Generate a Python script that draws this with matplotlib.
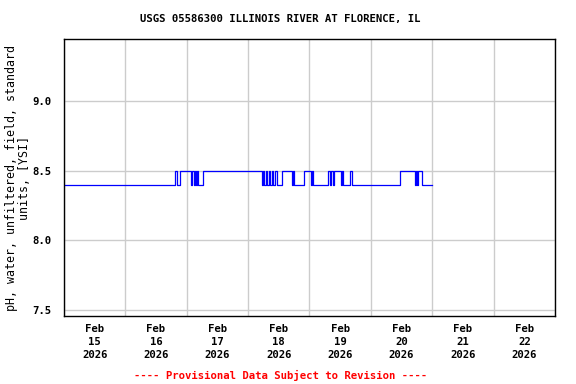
import numpy as np
import pandas as pd
import matplotlib
matplotlib.use("Agg")
import matplotlib.pyplot as plt
import matplotlib.dates as mdates

# change points of the pH record (time, value) -- value holds until next time
times = ["2026-02-15 00:00", "2026-02-16 19:24", "2026-02-16 20:12", "2026-02-16 21:20",
         "2026-02-17 01:38", "2026-02-17 02:00", "2026-02-17 02:48", "2026-02-17 03:12",
         "2026-02-17 03:36", "2026-02-17 04:00", "2026-02-17 04:24", "2026-02-17 06:20",
         "2026-02-18 05:24", "2026-02-18 05:48", "2026-02-18 06:12", "2026-02-18 07:00",
         "2026-02-18 07:24", "2026-02-18 08:06", "2026-02-18 08:30", "2026-02-18 09:18",
         "2026-02-18 09:42", "2026-02-18 10:30", "2026-02-18 11:18", "2026-02-18 13:13",
         "2026-02-18 17:08", "2026-02-18 17:30", "2026-02-18 17:54", "2026-02-18 21:50",
         "2026-02-19 00:34", "2026-02-19 01:00", "2026-02-19 01:18", "2026-02-19 07:12",
         "2026-02-19 08:00", "2026-02-19 08:24", "2026-02-19 09:12", "2026-02-19 09:36",
         "2026-02-19 12:18", "2026-02-19 12:42", "2026-02-19 13:06", "2026-02-19 15:48",
         "2026-02-19 16:36", "2026-02-20 11:24", "2026-02-20 17:13", "2026-02-20 17:36",
         "2026-02-20 18:00", "2026-02-20 18:24", "2026-02-20 20:00", "2026-02-20 23:52"]
ph = [8.4, 8.5, 8.4, 8.5,
      8.4, 8.5, 8.4, 8.5,
      8.4, 8.5, 8.4, 8.5,
      8.4, 8.5, 8.4, 8.5,
      8.4, 8.5, 8.4, 8.5,
      8.4, 8.5, 8.4, 8.5,
      8.4, 8.5, 8.4, 8.5,
      8.4, 8.5, 8.4, 8.5,
      8.4, 8.5, 8.4, 8.5,
      8.4, 8.5, 8.4, 8.5,
      8.4, 8.5, 8.4, 8.5,
      8.4, 8.5, 8.4, 8.4]

title = "USGS 05586300 ILLINOIS RIVER AT FLORENCE, IL"
ylabel = "pH, water, unfiltered, field, standard\nunits, [YSI]"
footer = "---- Provisional Data Subject to Revision ----"
yticks = [7.5, 8.0, 8.5, 9.0]

t = pd.to_datetime(times)

plt.rcParams['font.family'] = ['DejaVu Sans Mono']
plt.rcParams['font.weight'] = 'bold'
plt.rcParams['font.size'] = 7.7

fig = plt.figure(figsize=(5.76, 3.84), dpi=100)
ax = fig.add_axes([0.111, 0.177, 0.8525, 0.721])

ax.plot(t, ph, color='#0000ff', linewidth=0.9, drawstyle='steps-post')

start = pd.Timestamp("2026-02-15")
end = pd.Timestamp("2026-02-23")
ax.set_xlim(start, end)
ax.set_ylim(7.457, 9.443)

days = pd.date_range(start, end, freq='D')
ax.set_xticks(days)
ax.set_xticklabels([])
noons = days[:-1] + pd.Timedelta(hours=12)
ax.set_xticks(noons, minor=True)
ax.set_xticklabels([d.strftime("%b\n%d\n%Y") for d in noons], minor=True,
                   linespacing=1.35)
ax.tick_params(axis='x', which='both', length=0, pad=6)

ax.set_yticks(yticks)
ax.set_yticklabels(["%.1f" % v for v in yticks])
ax.tick_params(axis='y', length=0, pad=9)

ax.grid(True, which='major', color='#cccccc', linewidth=1)
ax.set_axisbelow(True)
for s in ax.spines.values():
    s.set_linewidth(1)
    s.set_color('black')

ax.set_ylabel(ylabel, linespacing=1.0, labelpad=1, fontsize=8.4)
fig.text(0.487, 0.95, title, ha='center', va='center')
fig.text(0.487, 0.023, footer, ha='center', va='center', color='red')

fig.savefig("out.png", dpi=100)
